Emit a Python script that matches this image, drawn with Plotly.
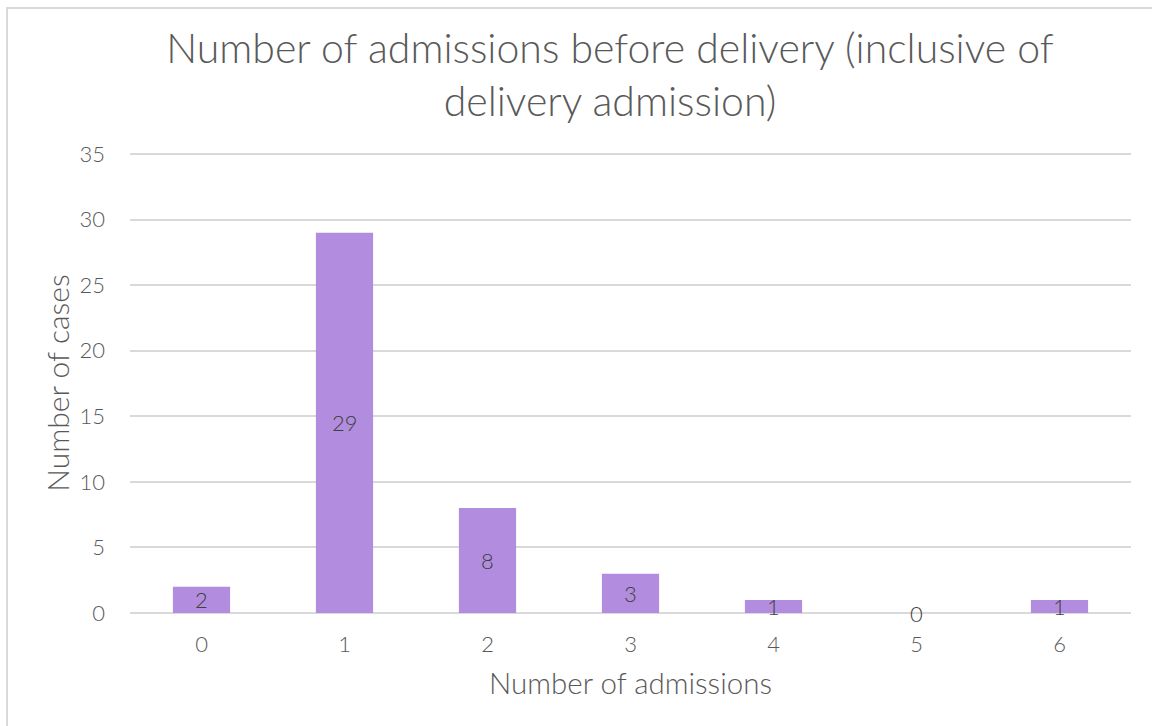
import plotly.graph_objects as go

# Admissions before delivery (inclusive of delivery admission)
admissions = ["0", "1", "2", "3", "4", "5", "6"]
cases = [2, 29, 8, 3, 1, 0, 1]

y_ticks = [0, 5, 10, 15, 20, 25, 30, 35]

FONT = "Lato, 'DejaVu Sans', sans-serif"
TEXT = "#595959"
GRID = "#d9d9d9"
BAR = "#b28ddf"

W, H = 1152, 726
L, R, T, B = 130, 21, 153, 113
pw = W - L - R
ph = H - T - B

fig = go.Figure()
fig.add_trace(go.Bar(
    x=admissions,
    y=cases,
    marker=dict(color=BAR, line=dict(width=0)),
    width=0.4,
    hoverinfo="x+y",
))

# value labels centred on each bar
for a, c in zip(admissions, cases):
    fig.add_annotation(
        x=a, y=c / 2, text=str(c), showarrow=False,
        font=dict(family=FONT, size=22, color="#404040", weight=300),
        xanchor="center", yanchor="middle",
    )

# chart-area frame
fig.add_shape(
    type="rect", xref="paper", yref="paper",
    x0=(7 - L) / pw, x1=(W + 20 - L) / pw,
    y0=-(H + 20 - T - ph) / ph, y1=(T - 8) / ph + 1,
    line=dict(color="#d9d9d9", width=2), fillcolor="rgba(0,0,0,0)",
    layer="below",
)

fig.update_layout(
    width=W, height=H,
    margin=dict(l=L, r=R, t=T, b=B, autoexpand=False),
    paper_bgcolor="white", plot_bgcolor="white",
    showlegend=False,
    bargap=0.6,
    font=dict(family=FONT, color=TEXT, weight=300),
    title=dict(
        text="Number of admissions before delivery (inclusive of<br>delivery admission)",
        x=(610 - L) / pw, xref="paper", xanchor="center",
        y=1 - 63 / H, yref="container", yanchor="middle",
        font=dict(family=FONT, size=41, color=TEXT, weight=300),
    ),
    xaxis=dict(
        type="category",
        range=[-0.5, 6.5],
        showgrid=False,
        showline=False,
        ticks="",
        tickfont=dict(family=FONT, size=22, color=TEXT, weight=300),
        ticklabelstandoff=16,
        title=dict(text="Number of admissions",
                   font=dict(family=FONT, size=29.5, color=TEXT, weight=300), standoff=17),
        fixedrange=True,
    ),
    yaxis=dict(
        range=[0, 35.08],
        tickvals=y_ticks,
        showgrid=True, gridcolor=GRID, gridwidth=1.5,
        zeroline=True, zerolinecolor=GRID, zerolinewidth=1.5,
        showline=False,
        ticks="",
        tickfont=dict(family=FONT, size=22, color=TEXT, weight=300),
        ticklabelstandoff=24,
        title=dict(text="Number of cases",
                   font=dict(family=FONT, size=30, color=TEXT, weight=300), standoff=0),
        fixedrange=True,
    ),
)

fig.write_html("out.html")
